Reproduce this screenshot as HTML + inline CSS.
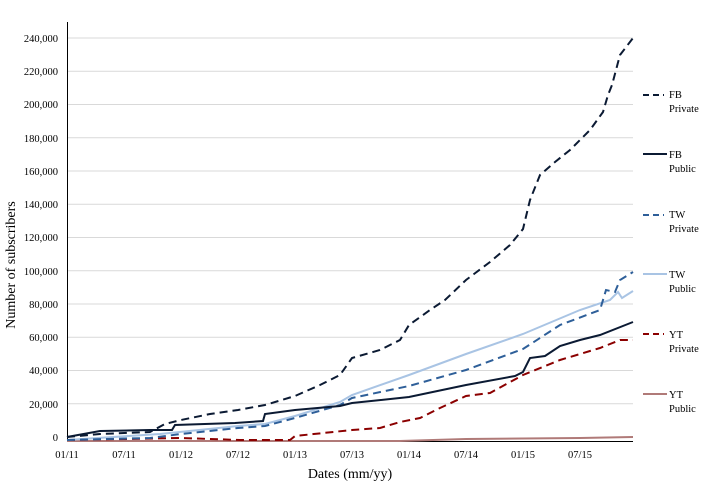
<!DOCTYPE html>
<html><head><style>body{margin:0;background:#fff}</style></head><body>
<svg width="711" height="490" xmlns="http://www.w3.org/2000/svg" font-family="Liberation Serif, serif" font-size="10.5">
<g stroke="#d9d9d9" stroke-width="1">
<line x1="67" x2="633" y1="38" y2="38"/><line x1="67" x2="633" y1="71.25" y2="71.25"/><line x1="67" x2="633" y1="104.5" y2="104.5"/><line x1="67" x2="633" y1="137.75" y2="137.75"/><line x1="67" x2="633" y1="171" y2="171"/><line x1="67" x2="633" y1="204.25" y2="204.25"/><line x1="67" x2="633" y1="237.5" y2="237.5"/><line x1="67" x2="633" y1="270.75" y2="270.75"/><line x1="67" x2="633" y1="304" y2="304"/><line x1="67" x2="633" y1="337.25" y2="337.25"/><line x1="67" x2="633" y1="370.5" y2="370.5"/><line x1="67" x2="633" y1="403.75" y2="403.75"/>
</g>
<g stroke="#000" stroke-width="1">
<line x1="67.5" y1="22" x2="67.5" y2="442"/><line x1="67" y1="441.5" x2="633" y2="441.5"/>
</g>
<g fill="#000" text-anchor="end">
<text x="58" y="42">240,000</text><text x="58" y="75">220,000</text><text x="58" y="108">200,000</text><text x="58" y="142">180,000</text><text x="58" y="175">160,000</text><text x="58" y="208">140,000</text><text x="58" y="241">120,000</text><text x="58" y="275">100,000</text><text x="58" y="308">80,000</text><text x="58" y="341">60,000</text><text x="58" y="374">40,000</text><text x="58" y="408">20,000</text><text x="58" y="441">0</text>
</g>
<g fill="#000" text-anchor="middle">
<text x="67" y="458">01/11</text><text x="124" y="458">07/11</text><text x="181" y="458">01/12</text><text x="238" y="458">07/12</text><text x="295" y="458">01/13</text><text x="352" y="458">07/13</text><text x="409" y="458">01/14</text><text x="466" y="458">07/14</text><text x="523" y="458">01/15</text><text x="580" y="458">07/15</text>
<text x="350" y="478" font-size="14">Dates (mm/yy)</text>
<text transform="translate(15,265) rotate(-90)" font-size="14">Number of subscribers</text>
</g>
<g fill="none" stroke-width="2">
<polyline stroke="#b07a78" points="67,441 400,441 466,439 580,438 633,437"/>
<polyline stroke="#8b0000" stroke-dasharray="8,5" points="67,440 181,438 240,440 290,440 295,436 352,430 380,428 400,422 420,418 440,408 466,396 490,393 523,375 560,360 600,348 620,340 633,340"/>
<polyline stroke="#a9c4e4" points="67,440 160,434 238,426 265,424 295,416 340,402 352,395 409,375 466,354 523,334 580,310 610,300 618,292 622,298 633,291"/>
<polyline stroke="#2e5f99" stroke-dasharray="8,5" points="67,440 150,438 181,434 238,428 265,426 295,418 340,405 352,398 409,386 466,370 523,349 560,325 600,310 606,290 615,292 620,280 633,272"/>
<polyline stroke="#0b1a33" points="67,437 100,431 150,430 172,430 175,425 235,423 263,421 265,414 295,410 340,406 352,403 409,397 466,385 515,376 523,372 530,358 545,356 560,346 580,340 600,335 633,322"/>
<polyline stroke="#0b1a33" stroke-dasharray="8,5" points="67,437 100,434 150,432 165,424 181,420 210,414 238,410 265,405 295,396 320,385 340,375 352,358 380,350 400,340 409,325 430,310 445,300 466,280 490,262 510,245 523,229 530,200 540,175 555,162 570,150 590,130 603,112 608,95 612,85 620,55 633,38"/>
</g>
<g stroke-width="2">
<line x1="643" x2="664" y1="95" y2="95" stroke="#0b1a33" stroke-dasharray="6,4"/>
<line x1="643" x2="667" y1="154" y2="154" stroke="#0b1a33"/>
<line x1="643" x2="664" y1="215" y2="215" stroke="#2e5f99" stroke-dasharray="6,4"/>
<line x1="643" x2="667" y1="274" y2="274" stroke="#a9c4e4"/>
<line x1="643" x2="664" y1="334" y2="334" stroke="#8b0000" stroke-dasharray="6,4"/>
<line x1="643" x2="667" y1="394" y2="394" stroke="#b07a78"/>
</g>
<g fill="#000" font-size="10.5">
<text x="669" y="98">FB</text><text x="669" y="112">Private</text>
<text x="669" y="158">FB</text><text x="669" y="172">Public</text>
<text x="669" y="218">TW</text><text x="669" y="232">Private</text>
<text x="669" y="278">TW</text><text x="669" y="292">Public</text>
<text x="669" y="338">YT</text><text x="669" y="352">Private</text>
<text x="669" y="398">YT</text><text x="669" y="412">Public</text>
</g>
</svg>
</body></html>
